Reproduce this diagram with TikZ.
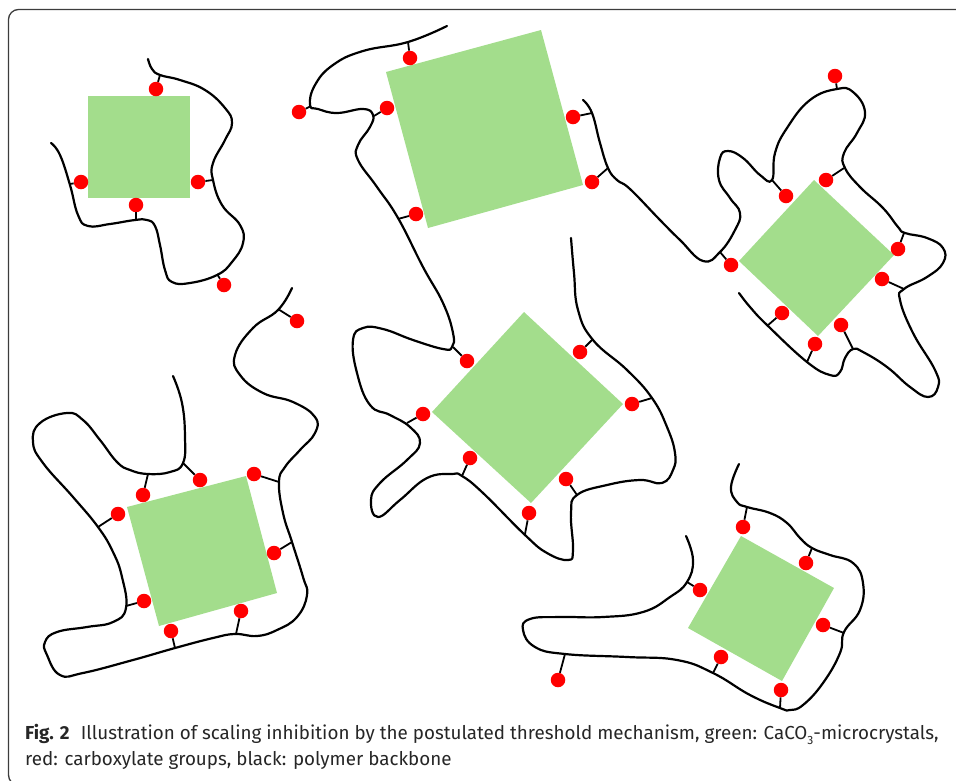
\documentclass[tikz,border=0pt]{standalone}
\usepackage{fontspec}
\setmainfont{Fira Sans}
\definecolor{crystalgreen}{RGB}{163,221,140}
\definecolor{groupred}{RGB}{255,0,0}
\definecolor{framegrey}{RGB}{60,60,60}
\tikzset{
  crystal/.style={fill=crystalgreen,draw=none},
  backbone/.style={draw=black,line width=2.2pt,line cap=round,line join=round},
  tether/.style={draw=black,line width=1.8pt},
  carboxyl/.style={circle,fill=groupred,draw=none,inner sep=0pt,minimum size=14.5pt},
  cardframe/.style={draw=framegrey,line width=1.3pt,rounded corners=10pt},
  caption/.style={anchor=base west,inner sep=0pt,font=\fontsize{18.8}{22}\selectfont,text=black!85}
}
% one carboxylate group: its red dot, and the tether to a point on the backbone
\newcommand{\carboxylate}[3]{%
  \coordinate (#1-a) at (#3);
  \node[carboxyl] (#1) at (#2) {};
  \draw[tether] (#1-a) -- (#1);
}
\newcommand{\lowthree}{\raisebox{-0.28em}{\fontsize{12}{12}\selectfont 3}}
\begin{document}
\begin{tikzpicture}[x=1pt,y=-1pt]
\useasboundingbox (0,0) rectangle (956,780);
\begin{scope}
\clip (0,0) rectangle (956,780);
\draw[cardframe] (970,9.5) -- (8.5,9.5) -- (8.5,785) -- (970,785);
\end{scope}

% CaCO3 microcrystals
\fill[crystal] (88,96) -- (190,96) -- (190,198) -- (88,198) -- cycle;
\fill[crystal] (386,72) -- (541,30) -- (583,185) -- (428,228) -- cycle;
\fill[crystal] (524,312) -- (623,404) -- (531,503) -- (432,412) -- cycle;
\fill[crystal] (814,180) -- (894,255) -- (818,336) -- (739,261) -- cycle;
\fill[crystal] (127,507) -- (246,476) -- (277,593) -- (159,626) -- cycle;
\fill[crystal] (741,536) -- (834,588) -- (782,681) -- (688,628) -- cycle;

% polymer backbones
\draw[backbone] plot[smooth,tension=0.75] coordinates {
  (148,59) (152,69) (160,75) (180,80) (205,90) (225,108) (232,123) (225,140)
  (213,163) (213,180) (222,205) (240,225) (243,243) (232,262) (217,275) (190,283)
  (172,282) (165,270) (160,245) (155,226) (147,220) (135,220) (110,224) (88,226)
  (78,215) (70,185) (60,155) (51,143)};

\draw[backbone] plot[smooth,tension=0.75] coordinates {
  (447,26) (408,42) (363,51) (333,65) (315,85) (310,105) (318,109)
  (337,113) (363,109) (373,115) (370,127) (358,145) (358,160) (377,187) (398,218)
  (423,267) (443,303) (453,333) (452,347) (443,349) (413,340) (383,329) (363,328)
  (353,340) (357,373) (370,405) (390,415) (410,427) (420,443) (407,460) (380,483)
  (371,500) (378,517) (400,500) (427,478) (452,474) (462,476) (483,493) (525,535)
  (547,553) (568,560) (573,550) (571,513) (577,495) (607,485) (640,480) (662,483)
  (673,470) (675,453) (667,427) (652,398) (627,370) (593,340) (578,310) (574,273)
  (571,238)};

\draw[backbone] plot[smooth,tension=0.75] coordinates {
  (583,100) (592,113) (600,143) (608,168) (617,180) (630,189) (660,220) (680,240)
  (703,261) (720,252) (735,230) (740,213) (730,198) (719,180) (720,158) (728,151)
  (743,158) (760,175) (772,180) (775,153) (787,128) (810,100) (837,89) (853,92)
  (865,112) (857,133) (844,153) (845,168) (860,187) (883,208) (898,227) (905,233)
  (927,238) (943,248) (943,263) (927,277) (904,289) (900,300) (913,333) (935,370)
  (938,387) (928,397) (910,387) (887,367) (863,352) (853,349) (845,358) (840,372)
  (830,375) (807,362) (767,325) (750,307) (739,293)};

\draw[backbone] plot[smooth,tension=0.75] coordinates {
  (292,288) (278,310) (253,328) (235,355) (240,375) (263,393) (293,402) (315,417)
  (315,433) (300,450) (285,467) (279,482) (283,513) (292,542) (303,577) (307,595)
  (297,617) (277,630) (257,636) (235,634) (213,638) (175,648) (133,660) (83,673)
  (60,675) (47,655) (45,642) (57,632) (87,627) (113,622) (126,608) (122,577)
  (113,552) (98,527) (73,497) (43,463) (33,442) (40,423) (67,413) (83,420)
  (100,440) (117,462) (130,470) (148,474) (170,472) (183,463) (185,437) (182,403)
  (173,376)};

\draw[backbone] plot[smooth,tension=0.75] coordinates {
  (739,464) (731,487) (737,502) (747,507) (770,513) (787,523) (800,538) (812,548)
  (830,555) (853,563) (863,583) (860,610) (844,632) (840,653) (823,683) (803,705)
  (790,710) (780,708) (750,695) (713,673) (677,660) (627,657) (565,654) (535,647)
  (523,630) (530,619) (560,617) (603,617) (643,612) (670,597) (687,582) (693,560)
  (686,536)};

% carboxylate groups
\carboxylate{a1}{156,89}{160,75}
\carboxylate{a2}{81,182}{70,184}
\carboxylate{a3}{198,182}{213,180}
\carboxylate{a4}{136,205}{136,220}
\carboxylate{a5}{224,285}{217,274}

\carboxylate{b1}{410,58}{408,42}
\carboxylate{b2}{299,112}{311,106}
\carboxylate{b3}{387,108}{374,116}
\carboxylate{b4}{416,214}{398,219}
\carboxylate{b5}{467,361}{453,347}
\carboxylate{b6}{423,414}{407,423}
\carboxylate{b7}{470,458}{462,476}
\carboxylate{b8}{529,513}{525,534}
\carboxylate{b9}{566,479}{577,495}
\carboxylate{b10}{632,404}{652,398}
\carboxylate{b11}{580,352}{593,339}

\carboxylate{c1}{573,117}{592,113}
\carboxylate{c2}{592,182}{608,168}
\carboxylate{c3}{835,76}{837,89}
\carboxylate{c4}{786,196}{772,180}
\carboxylate{c5}{826,180}{844,168}
\carboxylate{c6}{731,265}{720,252}
\carboxylate{c7}{898,249}{904,233}
\carboxylate{c8}{882,279}{904,289}
\carboxylate{c9}{841,325}{853,349}
\carboxylate{c10}{815,344}{807,362}
\carboxylate{c11}{782,313}{767,326}

\carboxylate{d1}{297,321}{278,309}
\carboxylate{d2}{200,480}{183,463}
\carboxylate{d3}{143,495}{148,474}
\carboxylate{d4}{118,514}{98,527}
\carboxylate{d5}{254,474}{279,482}
\carboxylate{d6}{274,553}{292,542}
\carboxylate{d7}{144,601}{126,606}
\carboxylate{d8}{171,631}{175,648}
\carboxylate{d9}{241,611}{236,634}

\carboxylate{e1}{743,527}{747,507}
\carboxylate{e2}{806,563}{812,548}
\carboxylate{e3}{823,625}{844,633}
\carboxylate{e4}{781,690}{780,708}
\carboxylate{e5}{721,657}{713,673}
\carboxylate{e6}{700,590}{687,582}
\carboxylate{e7}{558,680}{565,654}

% figure legend
\node[caption] (legendA) at (25,739) {\textbf{Fig. 2}\hspace{0.6em}Illustration of scaling inhibition by the postulated threshold mechanism, green: CaCO\lowthree-microcrystals,};
\node[caption] (legendB) at (25,765) {red: carboxylate groups, black: polymer backbone};
\end{tikzpicture}
\end{document}
